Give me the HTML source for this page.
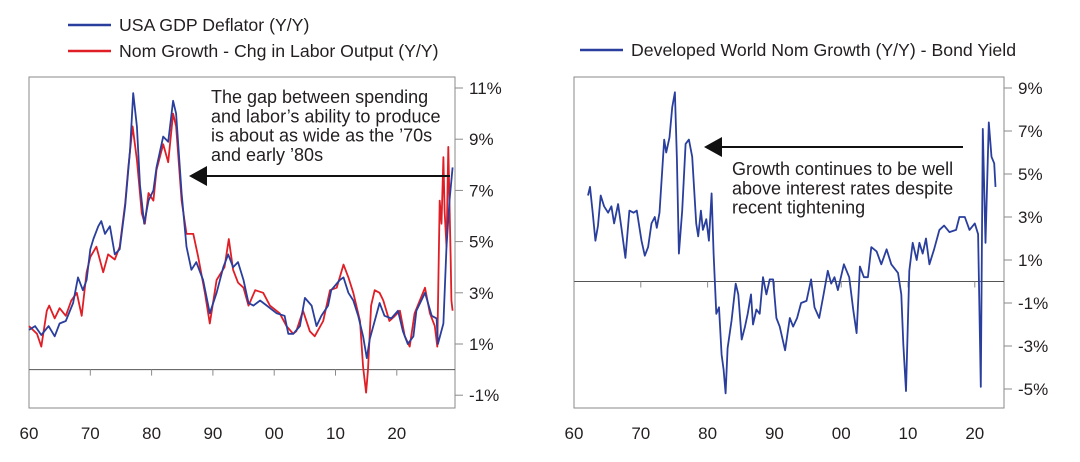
<!DOCTYPE html>
<html><head><meta charset="utf-8">
<style>
body{margin:0;background:#fff;width:1080px;height:462px;overflow:hidden;font-family:"Liberation Sans",sans-serif;}
svg{display:block}
text{font-family:"Liberation Sans",sans-serif;fill:#231f20}
</style></head>
<body>
<svg id="chart" width="1080" height="462"></svg>
<script>
// Left chart data
const leftYears=[1960,1961,1962,1963.2,1964.2,1965,1966,1967.2,1968,1968.8,1969.4,1970,1970.5,1971.3,1971.8,1972.4,1973.2,1974,1974.8,1975.7,1976.5,1977,1977.6,1978.1,1978.8,1979.5,1980.3,1980.8,1981.9,1982.7,1983.5,1984,1984.9,1985.7,1986.5,1987.3,1988.4,1989.5,1990.6,1991.7,1992.5,1993.3,1994.1,1995,1995.8,1996.6,1997.7,1998.8,2000.4,2001.7,2002.3,2003.1,2004.2,2005,2006.1,2006.9,2007.7,2008.8,2009.3,2010.7,2011.3,2012.1,2012.9,2013.7,2014.5,2015.1,2015.6,2016.4,2017.2,2018,2019.1,2020.2,2021,2021.8,2022.7,2023.2,2024.6,2025.7,2026.5,2026.7,2027.6,2028.1,2028.6,2029.1];
const deflatorValues=[1.55,1.7,1.35,1.7,1.3,1.8,1.9,2.6,3.6,3.1,3.5,4.7,5.1,5.6,5.8,5.3,5.6,4.5,4.7,6.4,8.6,10.8,9.5,7.2,5.7,6.6,7.0,7.9,9.1,8.9,10.5,10.0,6.9,4.8,3.9,4.2,3.5,2.2,3.0,4.0,4.5,4.0,4.2,3.5,2.6,2.5,2.7,2.5,2.2,2.1,1.4,1.4,1.7,2.8,2.5,1.7,2.1,2.5,3.1,3.5,3.6,3.0,2.7,2.1,1.3,0.45,1.2,1.9,2.6,2.1,2.0,2.3,1.5,1.0,1.3,2.3,3.0,2.1,2.0,1.0,1.8,4.8,6.6,7.9];
const laborYears=[1960,1961.3,1962,1962.9,1963.3,1964.2,1965,1966,1966.9,1967.8,1968.6,1969.4,1970,1971,1972.1,1972.9,1974,1974.8,1975.7,1976.2,1976.9,1977.6,1978.4,1978.9,1979.5,1980.3,1980.8,1981.9,1982.7,1983.5,1984,1984.9,1985.7,1986.8,1987.6,1988.7,1989.5,1990.6,1991.9,1992.6,1993.3,1994.1,1995,1995.8,1996.9,1998.2,1999.3,2000.9,2002,2003.1,2003.6,2004.7,2005.8,2006.6,2008,2009.1,2010.2,2011.3,2012.1,2012.9,2014,2014.5,2015,2015.3,2015.8,2016.4,2017.2,2017.8,2018.8,2019.7,2020.5,2021.3,2022.1,2022.9,2024.6,2025.4,2026.2,2026.6,2027,2027.3,2027.6,2027.8,2028.1,2028.4,2028.8,2028.9,2029.1];
const laborValues=[1.7,1.4,0.9,2.3,2.5,2.0,2.4,2.1,2.7,3.0,2.1,3.8,4.4,4.8,3.8,4.5,4.3,4.8,6.5,7.9,9.5,8.2,6.1,5.7,6.9,6.6,7.8,8.8,8.1,10.0,9.5,6.6,5.3,5.3,4.4,3.0,1.8,3.5,4.0,5.1,3.9,3.4,3.2,2.5,3.1,3.0,2.5,2.2,1.7,1.4,1.5,2.3,1.5,1.3,1.9,3.1,3.2,4.1,3.6,3.0,1.9,0.1,-0.9,0.0,2.5,3.1,3.0,2.7,1.9,2.1,2.3,1.3,0.9,2.2,3.2,2.2,1.7,0.9,6.6,5.7,8.3,6.2,4.8,8.7,4.3,2.7,2.3];
const leftTicks=[11,9,7,5,3,1,-1];
const leftTickLabels=["11%","9%","7%","5%","3%","1%","-1%"];
const xTickYears=[1960,1970,1980,1990,2000,2010,2020];
const xTickLabels=["60","70","80","90","00","10","20"];
// Right chart data
const rightYears=[1962.1,1962.4,1962.8,1963.2,1963.6,1964,1964.5,1965.1,1965.6,1966,1966.6,1967.1,1967.7,1968.3,1968.9,1969.4,1970.1,1970.6,1971.1,1971.6,1972.1,1972.4,1972.8,1973.5,1973.8,1974.3,1974.7,1975.1,1975.4,1975.7,1976.2,1976.7,1977.2,1977.7,1978.3,1978.6,1979,1979.3,1979.8,1980.2,1980.6,1980.9,1981.3,1981.7,1982.1,1982.4,1982.7,1983,1983.6,1984.2,1984.6,1985.1,1985.6,1986,1986.5,1986.8,1987.3,1987.8,1988.3,1988.8,1989.3,1989.8,1990.3,1990.8,1991.6,1992.3,1992.8,1993.4,1994,1994.8,1995.5,1996,1996.7,1997.3,1998,1998.5,1999,1999.5,2000.4,2001.2,2001.8,2002.3,2002.8,2003.4,2004,2004.5,2005.3,2006,2006.8,2007.5,2008.5,2009,2009.3,2009.7,2010.2,2010.7,2011.3,2011.7,2012.2,2012.7,2013.2,2013.9,2014.7,2015.4,2016.2,2017.2,2017.7,2018.5,2019.2,2020,2020.5,2020.9,2021.2,2021.6,2022.1,2022.5,2022.9,2023.1];
const rightValues=[4.0,4.4,3.2,1.9,2.6,4.0,3.5,3.2,3.5,2.7,3.6,2.5,1.1,3.3,3.2,3.3,1.9,1.2,1.6,2.7,3.0,2.5,3.2,6.6,6.0,6.7,8.1,8.8,5.7,1.3,3.3,6.4,6.6,5.8,2.7,2.1,3.3,2.4,2.9,1.9,4.1,1.3,-1.5,-1.2,-3.4,-4.1,-5.2,-3.1,-1.8,-0.1,-0.6,-2.7,-2.1,-1.5,-0.6,-2.0,-1.3,-1.5,0.2,-0.6,0.1,0.1,-1.7,-2.1,-3.2,-1.7,-2.1,-1.7,-1.0,-0.9,0.1,-1.2,-1.7,-0.7,0.5,-0.1,0.2,-0.4,0.8,0.2,-1.3,-2.4,0.7,0.2,0.2,1.6,1.4,0.8,1.5,0.8,0.4,-0.6,-2.9,-5.1,0.5,1.8,1.0,1.8,1.3,2.0,0.8,1.5,2.4,2.6,2.3,2.4,3.0,3.0,2.4,2.7,2.2,-4.9,7.1,1.8,7.4,5.8,5.5,4.4];
const rightTicks=[9,7,5,3,1,-1,-3,-5];
const rightTickLabels=["9%","7%","5%","3%","1%","-1%","-3%","-5%"];

const NS="http://www.w3.org/2000/svg";
const svg=document.getElementById('chart');
function mk(tag,attrs,parent){const e=document.createElementNS(NS,tag);for(const k in attrs)e.setAttribute(k,attrs[k]);(parent||svg).appendChild(e);return e;}
function txt(x,y,s,size,anchor,parent){const t=mk('text',{x:x,y:y,'font-size':size,'text-anchor':anchor||'start'},parent);t.textContent=s;return t;}

const lx=y=>29+(y-1960)*6.13;
const ly=v=>88+(11-v)*25.6;
const rx=y=>574+(y-1960)*6.68;
const ry=v=>88+(9-v)*21.5;

function panel(name,x0,x1,y0,y1,xs,ys,ticks,labels,zeroV){
  const g=mk('g',{});
  
  
  const r=mk('rect',{x:x0,y:y0,width:x1-x0,height:y1-y0,fill:'none',stroke:'#8a8a8a','stroke-width':1},g);
  
  
  const z=mk('line',{x1:x0,x2:x1,y1:ys(zeroV),y2:ys(zeroV),stroke:'#555','stroke-width':1},g);
  
  
  ticks.forEach((v,i)=>{
    mk('line',{x1:x1,x2:x1+8,y1:ys(v),y2:ys(v),stroke:'#8a8a8a'},g);
    const t=txt(x1+14,ys(v)+6,labels[i],17,'start',g);
    
    
  });
  xTickYears.forEach((yr,i)=>{
    mk('line',{x1:xs(yr),x2:xs(yr),y1:ys(zeroV),y2:ys(zeroV)+6,stroke:'#8a8a8a'},g);
    const t=txt(xs(yr),439,xTickLabels[i],17,'middle',g);
    
    
  });
  return g;
}
function series(name,xsArr,vals,xs,ys,color){
  const d=xsArr.map((y,i)=>(i?'L':'M')+xs(y).toFixed(1)+','+ys(vals[i]).toFixed(1)).join('');
  const p=mk('path',{d:d,fill:'none',stroke:color,'stroke-width':1.8,'stroke-linejoin':'round'});
  
  
}
panel('left-chart',29,455,77,408,lx,ly,leftTicks,leftTickLabels,0);
series('labor-output-line',laborYears,laborValues,lx,ly,'#e01e26');
series('gdp-deflator-line',leftYears,deflatorValues,lx,ly,'#2a3f9d');
panel('right-chart',574,1004,77,408,rx,ry,rightTicks,rightTickLabels,0);
series('developed-world-line',rightYears,rightValues,rx,ry,'#2a3f9d');

function legend(name,x,y,color,label){
  const g=mk('g',{});
  
  
  mk('line',{x1:x,x2:x+43,y1:y,y2:y,stroke:color,'stroke-width':2.5},g);
  txt(x+51,y+6,label,17.7,'start',g);
}
legend('legend-gdp-deflator',68,25,'#2a3f9d','USA GDP Deflator (Y/Y)');
legend('legend-labor-output',68,51,'#e01e26','Nom Growth - Chg in Labor Output (Y/Y)');
legend('legend-developed-world',580,50,'#2a3f9d','Developed World Nom Growth (Y/Y) - Bond Yield');

function arrow(name,tipX,endX,y){
  const g=mk('g',{});
  
  
  mk('line',{x1:tipX+15,x2:endX,y1:y,y2:y,stroke:'#111','stroke-width':2},g);
  mk('polygon',{points:`${tipX},${y} ${tipX+18},${y-10} ${tipX+18},${y+10}`,fill:'#111'},g);
}
arrow('left-arrow',189,450,176);
arrow('right-arrow',704,963,147);
function note(name,x,y0,lines){
  const g=mk('g',{});
  
  
  lines.forEach((s,i)=>txt(x,y0+i*19.3,s,18,'start',g));
}
note('left-annotation',211,103,["The gap between spending","and labor\u2019s ability to produce","is about as wide as the \u201970s","and early \u201980s"]);
note('right-annotation',732,175,["Growth continues to be well","above interest rates despite","recent tightening"]);
</script>
</body></html>
